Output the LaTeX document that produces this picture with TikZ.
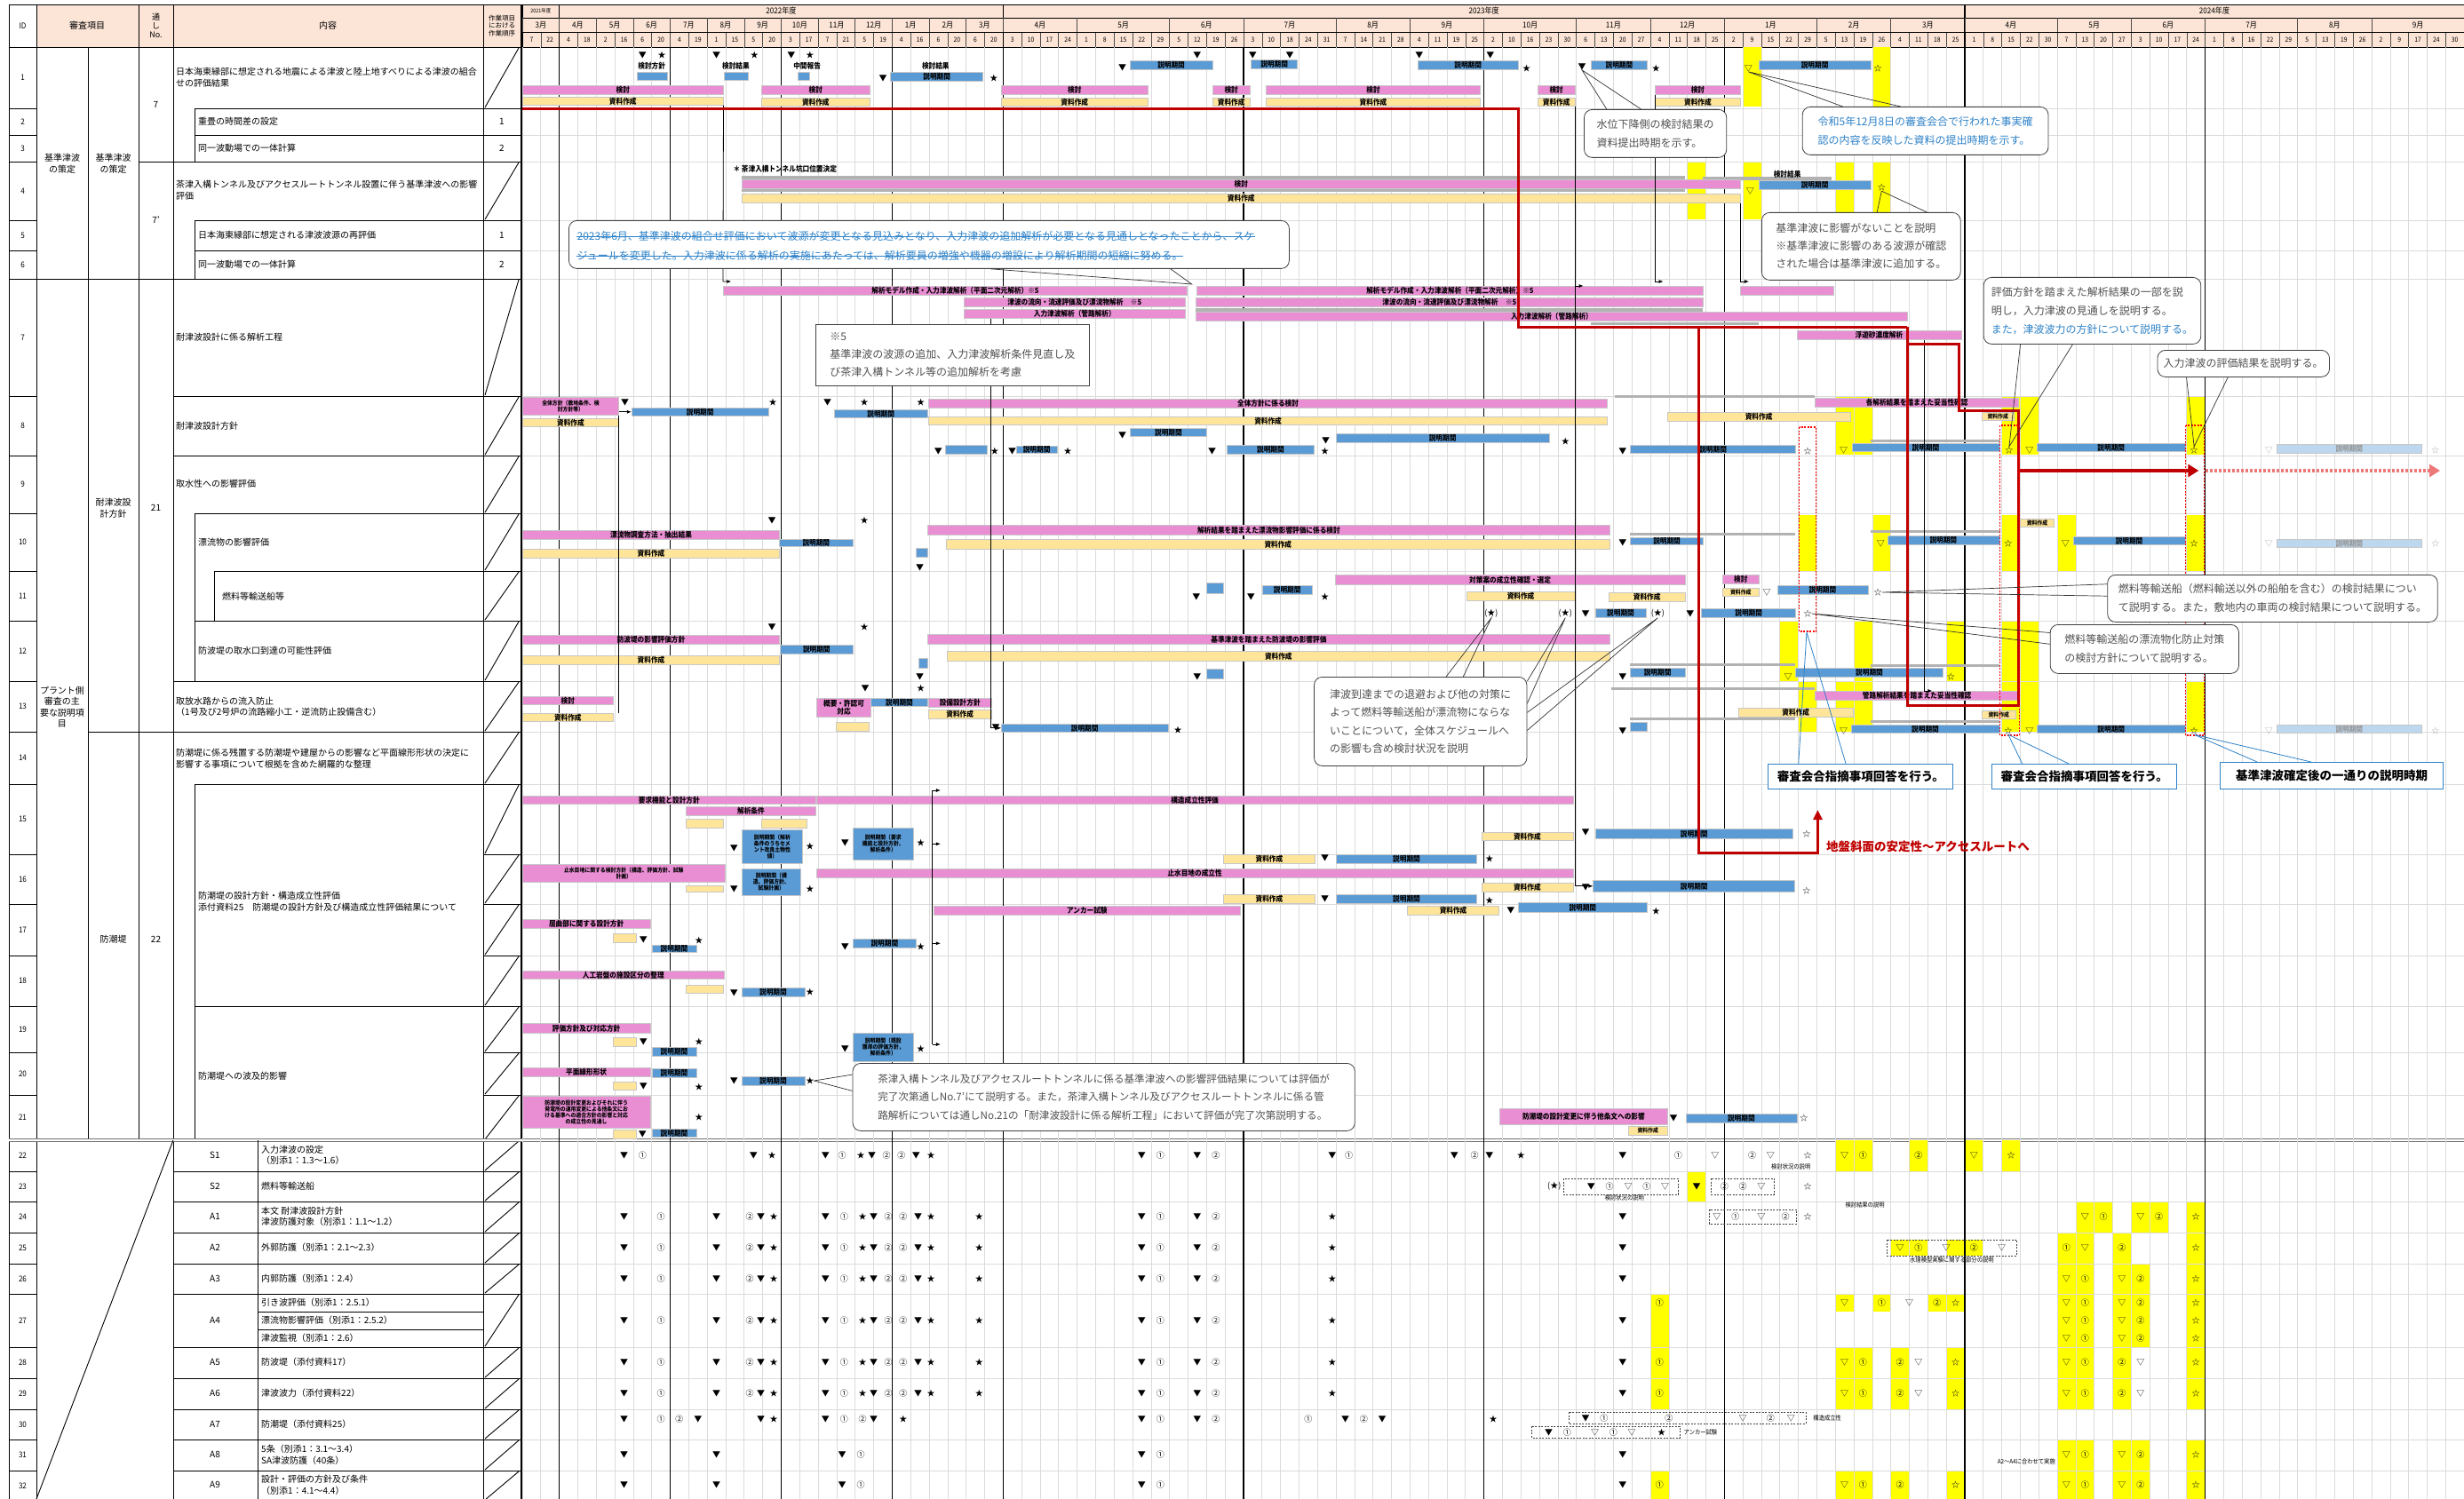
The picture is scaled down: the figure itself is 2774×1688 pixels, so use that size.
\documentclass[tikz,border=0pt]{standalone}
\usepackage{fontspec}
\setmainfont{Noto Sans CJK JP}
\newfontfamily\cond{Noto Sans CJK JP}[FakeStretch=0.9]
\usetikzlibrary{calc,arrows.meta}

\definecolor{hdrfill}{RGB}{252,228,214}
\definecolor{barpink}{RGB}{234,142,212}
\definecolor{barbeige}{RGB}{255,229,153}
\definecolor{barblue}{RGB}{91,155,213}
\definecolor{barfade}{RGB}{189,215,238}
\definecolor{hlyel}{RGB}{255,255,0}
\definecolor{redln}{RGB}{192,0,0}
\definecolor{redfade}{RGB}{236,120,120}
\definecolor{notegray}{RGB}{80,80,80}
\definecolor{noteblue}{RGB}{46,130,200}

\newcommand{\gbar}[7]{%
  \node[#6, minimum width={(#3-#2)*20.82pt}, minimum height={(#5-#4)*1pt}] (#1) at (#2,#4) {#7};}

\begin{document}
\begin{tikzpicture}[x=1pt, y=-1pt,
  tline/.style={black, line width=0.9pt},
  gridc/.style={black!14, line width=0.7pt},
  qline/.style={black, line width=1.3pt},
  hdrt/.style={inner sep=0pt, font=\fontsize{9}{9}\cond},
  cellt/.style={inner sep=0pt, font=\fontsize{10}{12.5}\selectfont, align=left},
  barbase/.style={draw=black!22, line width=0.6pt, inner sep=0pt, anchor=north west,
    font=\fontsize{8.5}{9}\cond\bfseries, align=center},
  pk/.style={barbase, fill=barpink},
  bg/.style={barbase, fill=barbeige},
  bl/.style={barbase, fill=barblue},
  lb/.style={barbase, fill=barfade, text=black!40},
  sm/.style={font=\fontsize{6.5}{7}\cond\bfseries},
  gr/.style={fill=black!30},
  hl/.style={fill=hlyel},
  mk/.style={inner sep=0pt, font=\fontsize{9}{9}\selectfont},
  mkf/.style={mk, text=black!35},
  tiny/.style={inner sep=0pt, font=\fontsize{7}{7}\cond},
  dbox/.style={black!75, line width=0.7pt, dash pattern=on 2pt off 1.5pt},
  note/.style={draw=black!75, line width=0.8pt, rounded corners=9pt, fill=white, anchor=north west,
    text=notegray, font=\fontsize{12}{21}\selectfont, align=left, inner sep=0pt},
  notesq/.style={note, rounded corners=0pt},
  nbox/.style={draw=noteblue, line width=1pt, fill=white, anchor=north west, inner sep=0pt,
    font=\fontsize{13.5}{14}\selectfont\bfseries},
  ptr/.style={black!80, line width=0.7pt},
  bptr/.style={noteblue, line width=0.8pt},
  conn/.style={black, line width=0.8pt, -{Latex[length=5pt,width=4pt]}},
  connl/.style={black, line width=0.8pt},
  redl/.style={redln, line width=3pt},
  reddot/.style={red, line width=1.3pt, dash pattern=on 2pt off 1.5pt}]

  \useasboundingbox (0,0) rectangle (2774,1688);
  \fill[white] (0,0) rectangle (2774,1688);

  \fill[hdrfill] (41,5) rectangle (586,53);
  \fill[hdrfill] (588,5) rectangle (2774,53);
  \node[hdrt] (hid) at (25.5,29) {ID};
  \node[hdrt, font=\fontsize{10}{10}\selectfont] (hsa) at (98,29) {審査項目};
  \node[hdrt, align=center, font=\fontsize{9}{10}\selectfont] (hno) at (175.5,29) {通\\し\\No.};
  \node[hdrt, font=\fontsize{10}{10}\selectfont] (hnai) at (369,29) {内容};
  \node[hdrt, align=center, font=\fontsize{7.5}{8.5}\selectfont] (hjun) at (565,29) {作業項目\\における\\作業順序};

  \foreach \t/\b [count=\n] in {53/122,122/152,152/182,182/248,248/282,282/314,314/446,446/513,
      513/578,578/643,643/699,699/767,767/824,824/883,883/962,962/1018,1018/1076,1076/1133,
      1133/1185,1185/1233,1233/1284,1284/1319,1319/1353,1353/1388,1388/1423,1423/1457,
      1457/1517,1517/1552,1552/1587,1587/1621,1621/1656,1656/1690} {
    \node[hdrt] (id\n) at (25.5,{(\t+\b)/2}) {\n};
    \draw[tline] (10,\b) -- (41,\b);
    \draw[tline] (544,\b) -- (586,\b);
  }
  \foreach \t/\b in {53/122,182/248,314/446,446/513,513/578,578/643,643/699,699/767,767/824,
      824/883,883/962,962/1018,1018/1076,1076/1133,1133/1185,1185/1233,1233/1284,1284/1319,
      1319/1353,1353/1388,1388/1423,1423/1457,1457/1517,1517/1552,1552/1587,1587/1621,
      1621/1656,1656/1690}
    \draw[tline] (546,\b-1) -- (584,\t+1);
  \foreach \t/\b/\k [count=\n] in {122/152/1,152/182/2,248/282/1,282/314/2}
    \node[hdrt, font=\fontsize{10}{10}\selectfont] (jn\n) at (565,{(\t+\b)/2}) {\k};

  \draw[tline] (10,5) rectangle (2774,1688);
  \draw[tline] (10,53) -- (2774,53);
  \foreach \x in {41,195,544} \draw[tline] (\x,5) -- (\x,1688);
  \foreach \x in {99,156} \draw[tline] (\x,53) -- (\x,1284);
  \draw[tline] (156,5) -- (156,53);
  \draw[line width=2pt] (587,5) -- (587,1688);
  \foreach \y in {314,1284} \draw[tline] (41,\y) -- (195,\y);
  \draw[tline] (99,824) -- (195,824);
  \draw[tline] (156,182) -- (195,182);
  \foreach \y in {182,314,446,513,767,824} \draw[tline] (195,\y) -- (544,\y);
  \foreach \y in {122,152,248,282,578,699,883,1133} \draw[tline] (219,\y) -- (544,\y);
  \draw[tline] (241,643) -- (544,643);
  \draw[tline] (219,122) -- (219,182);
  \draw[tline] (219,248) -- (219,314);
  \draw[tline] (219,578) -- (219,767);
  \draw[tline] (241,643) -- (241,699);
  \draw[tline] (219,883) -- (219,1284);
  \draw[black!55, line width=1pt, double, double distance=1.2pt] (10,1284) -- (2774,1284);

  \node[cellt, anchor=north west] (t1) at (198,76) {日本海東縁部に想定される地震による津波と陸上地すべりによる津波の組合\\せの評価結果};
  \node[cellt, anchor=west] (t2) at (223,137) {重畳の時間差の設定};
  \node[cellt, anchor=west] (t3) at (223,167) {同一波動場での一体計算};
  \node[cellt, anchor=north west] (t4) at (198,203) {茶津入構トンネル及びアクセスルートトンネル設置に伴う基準津波への影響\\評価};
  \node[cellt, anchor=west] (t5) at (223,265) {日本海東縁部に想定される津波波源の再評価};
  \node[cellt, anchor=west] (t6) at (223,298) {同一波動場での一体計算};
  \node[cellt, anchor=west] (t7) at (198,380) {耐津波設計に係る解析工程};
  \node[cellt, anchor=west] (t8) at (198,480) {耐津波設計方針};
  \node[cellt, anchor=west] (t9) at (198,545) {取水性への影響評価};
  \node[cellt, anchor=west] (t10) at (223,611) {漂流物の影響評価};
  \node[cellt, anchor=west] (t11) at (250,672) {燃料等輸送船等};
  \node[cellt, anchor=west] (t12) at (223,733) {防波堤の取水口到達の可能性評価};
  \node[cellt, anchor=west] (t13) at (198,796) {取放水路からの流入防止\\（1号及び2号炉の流路縮小工・逆流防止設備含む）};
  \node[cellt, anchor=west] (t14) at (198,854) {防潮堤に係る残置する防潮堤や建屋からの影響など平面線形形状の決定に\\影響する事項について根拠を含めた網羅的な整理};
  \node[cellt, anchor=west] (t15) at (223,1015) {防潮堤の設計方針・構造成立性評価\\添付資料25\quad 防潮堤の設計方針及び構造成立性評価結果について};
  \node[cellt, anchor=west] (t19) at (223,1212) {防潮堤への波及的影響};

  \node[cellt, align=center] (g1) at (70,184) {基準津波\\の策定};
  \node[cellt, align=center] (g2) at (127.5,184) {基準津波\\の策定};
  \node[cellt, align=center] (g3) at (70,796) {プラント側\\審査の主\\要な説明項\\目};
  \node[cellt, align=center] (g4) at (127.5,572) {耐津波設\\計方針};
  \node[cellt, align=center] (g5) at (127.5,1058) {防潮堤};
  \node[cellt] (n7) at (175.5,118) {7};
  \node[cellt] (n7b) at (175.5,248) {7'};
  \node[cellt] (n21) at (175.5,572) {21};
  \node[cellt] (n22) at (175.5,1058) {22};

  \draw[tline] (41,1688) -- (195,1284);
  \draw[tline] (290,1284) -- (290,1688);
  \foreach \y in {1319,1353,1388,1423,1457,1517,1552,1587,1621,1656} \draw[tline] (195,\y) -- (544,\y);
  \foreach \y in {1477,1497} \draw[tline] (290,\y) -- (544,\y);
  \foreach \c/\y [count=\n] in {S1/1301,S2/1336,A1/1370,A2/1405,A3/1440,A4/1487,A5/1534,A6/1569,A7/1604,A8/1638,A9/1672}
    \node[cellt] (cd\n) at (242,\y) {\c};
  \node[cellt, anchor=west] (u22) at (294,1301) {入力津波の設定\\（別添1：1.3～1.6）};
  \node[cellt, anchor=west] (u23) at (294,1336) {燃料等輸送船};
  \node[cellt, anchor=west] (u24) at (294,1370) {本文\ 耐津波設計方針\\津波防護対象（別添1：1.1～1.2）};
  \node[cellt, anchor=west] (u25) at (294,1405) {外郭防護（別添1：2.1～2.3）};
  \node[cellt, anchor=west] (u26) at (294,1440) {内郭防護（別添1：2.4）};
  \node[cellt, anchor=west] (u27a) at (294,1467) {引き波評価（別添1：2.5.1）};
  \node[cellt, anchor=west] (u27b) at (294,1487) {漂流物影響評価（別添1：2.5.2）};
  \node[cellt, anchor=west] (u27c) at (294,1507) {津波監視（別添1：2.6）};
  \node[cellt, anchor=west] (u28) at (294,1534) {防波堤（添付資料17）};
  \node[cellt, anchor=west] (u29) at (294,1569) {津波波力（添付資料22）};
  \node[cellt, anchor=west] (u30) at (294,1604) {防潮堤（添付資料25）};
  \node[cellt, anchor=west] (u31) at (294,1638) {5条（別添1：3.1～3.4）\\SA津波防護（40条）};
  \node[cellt, anchor=west] (u32) at (294,1672) {設計・評価の方針及び条件\\（別添1：4.1～4.4）};

  \begin{scope}[xshift=588pt, x=20.82pt]
    \foreach \a/\b/\c/\d in {66/67/53/120, 73/74/53/120, 63/64/182/247, 66/67/182/247,
        71/72/182/247, 73/74/182/247, 71/73/447/512, 80/82/447/512, 90/91/447/512,
        69/70/580/643, 73/74/580/643, 80/81/580/643, 83/84/580/643, 90/91/580/643,
        68/69/700/767, 72/73/700/767, 77/78/700/767, 80/82/700/767,
        69/70/767/824, 71/73/767/824, 80/82/767/824, 90/91/767/824}
      \fill[hl] (\a,\c) rectangle (\b,\d);
    \foreach \c/\t/\b in {71/1284/1319,72/1284/1319,75/1284/1319,78/1284/1319,80/1284/1319,
        63/1319/1353,84/1353/1388,85/1353/1388,87/1353/1388,88/1353/1388,90/1353/1388,
        74/1396/1414,75/1396/1414,77/1396/1414,78/1396/1414,83/1388/1423,84/1388/1423,86/1388/1423,90/1388/1423,
        83/1423/1457,84/1423/1457,86/1423/1457,87/1423/1457,90/1423/1457,
        61/1457/1517,71/1457/1477,73/1457/1477,76/1457/1477,77/1457/1477,
        83/1457/1517,84/1457/1517,86/1457/1517,87/1457/1517,90/1457/1517,
        61/1517/1552,71/1517/1552,72/1517/1552,74/1517/1552,77/1517/1552,83/1517/1552,84/1517/1552,86/1517/1552,90/1517/1552,
        61/1552/1587,71/1552/1587,72/1552/1587,74/1552/1587,77/1552/1587,83/1552/1587,84/1552/1587,86/1552/1587,90/1552/1587,
        83/1621/1656,84/1621/1656,86/1621/1656,87/1621/1656,90/1621/1656,
        61/1656/1688,71/1656/1688,72/1656/1688,74/1656/1688,77/1656/1688,83/1656/1688,84/1656/1688,86/1656/1688,87/1656/1688,90/1656/1688}
      \fill[hl] (\c,\t) rectangle (\c+1,\b);

    \foreach \i in {0,...,105} {
      \draw[gridc] (\i,53) -- (\i,1688);
      \draw[black!70, line width=0.6pt] (\i,36) -- (\i,53);
    }
    \foreach \y in {122,152,182,248,282,314,446,513,578,643,699,767,824,883,962,1018,1076,1133,
        1185,1233,1319,1353,1388,1423,1457,1517,1552,1587,1621,1656}
      \draw[gridc] (0,\y) -- (105,\y);
    \foreach \i in {2,8,14,20,26,39,52,65,78,91} \draw[qline] (\i,53) -- (\i,1688);

    \draw[tline] (0,20) -- (105,20);
    \draw[tline] (0,36) -- (105,36);
    \foreach \a/\b/\yr [count=\n] in {0/2/2021年度,2/26/2022年度,26/78/2023年度,78/105/2024年度} {
      \draw[line width=1.2pt] (\a,5) -- (\a,53);
      \node[hdrt, font=\fontsize{\ifnum\n=1 6\else 9\fi}{9}\cond] (yr\n) at ({(\a+\b)/2},12.5) {\yr};
    }
    \foreach \a/\b/\m [count=\n] in {0/2/3月,2/4/4月,4/6/5月,6/8/6月,8/10/7月,10/12/8月,12/14/9月,
        14/16/10月,16/18/11月,18/20/12月,20/22/1月,22/24/2月,24/26/3月,26/30/4月,30/35/5月,
        35/39/6月,39/44/7月,44/48/8月,48/52/9月,52/57/10月,57/61/11月,61/65/12月,65/70/1月,
        70/74/2月,74/78/3月,78/83/4月,83/87/5月,87/91/6月,91/96/7月,96/100/8月,100/105/9月} {
      \draw[black!70, line width=0.6pt] (\a,20) -- (\a,36);
      \node[hdrt] (mo\n) at ({(\a+\b)/2},28) {\m};
    }
    \foreach \d [count=\i from 0] in {7,22,4,18,2,16,6,20,4,19,1,15,5,20,3,17,7,21,5,19,4,16,6,20,6,20,
        3,10,17,24,1,8,15,22,29,5,12,19,26,3,10,18,24,31,7,14,21,28,4,11,19,25,2,10,16,23,30,
        6,13,20,27,4,11,18,25,2,9,15,22,29,5,13,19,26,4,11,18,25,
        1,8,15,22,30,7,13,20,27,3,10,17,24,1,8,16,22,29,5,13,19,26,2,9,17,24,30}
      \node[hdrt, font=\fontsize{7.5}{8}\cond] (dy\i) at (\i+0.5,44.5) {\d};

    \gbar{b1a}{0}{10.85}{96}{106}{pk}{検討}
    \gbar{b1b}{0}{10.85}{109}{118}{bg}{資料作成}
    \gbar{b1c}{12.9}{18.8}{96}{106}{pk}{検討}
    \gbar{b1d}{12.9}{18.8}{110}{119}{bg}{資料作成}
    \gbar{b1e}{25.9}{33.8}{96}{106}{pk}{検討}
    \gbar{b1f}{25.9}{33.8}{110}{119}{bg}{資料作成}
    \gbar{b1g}{37.3}{39.35}{96}{106}{pk}{検討}
    \gbar{b1h}{37.3}{39.35}{110}{119}{bg}{資料作成}
    \gbar{b1i}{40.2}{51.8}{96}{106}{pk}{検討}
    \gbar{b1j}{40.2}{51.8}{110}{119}{bg}{資料作成}
    \gbar{b1k}{54.9}{56.9}{96}{106}{pk}{検討}
    \gbar{b1l}{54.9}{56.9}{110}{119}{bg}{資料作成}
    \gbar{b1m}{61.25}{65.85}{96}{106}{pk}{検討}
    \gbar{b1n}{61.25}{65.85}{110}{119}{bg}{資料作成}
    \gbar{e1a}{6.2}{7.85}{81}{90}{bl}{}
    \gbar{e1b}{10.9}{12.2}{81}{90}{bl}{}
    \gbar{e1c}{14.9}{15.5}{81}{90}{bl}{}
    \gbar{e1d}{19.9}{24.9}{81}{91}{bl}{説明期間}
    \gbar{e1e}{32.85}{37.3}{68}{78}{bl}{説明期間}
    \gbar{e1f}{39.4}{41.9}{67}{77}{bl}{説明期間}
    \gbar{e1g}{48.4}{53.85}{68}{78}{bl}{説明期間}
    \gbar{e1h}{57.8}{60.8}{68}{78}{bl}{説明期間}
    \gbar{e1i}{66.85}{72.9}{68}{78}{bl}{説明期間}
    \foreach \x/\t [count=\n] in {7/検討方針,11.55/検討結果,15.4/中間報告,22.35/検討結果}
      \node[hdrt, font=\fontsize{8.5}{9}\cond\bfseries] (lb1\n) at (\x,74) {\t};
    \foreach \x/\y/\s [count=\n] in {6.5/62/▼,7.55/62/★,10.5/62/▼,12.55/62/★,14.55/62/▼,15.55/62/★,
        19.5/88/▼,25.5/88/★,32.45/76/▼,36.5/62/▼,39.5/62/▼,41.5/62/▼,48.5/62/▼,52.35/62/▼,
        54.3/77/★,61.3/77/★}
      \node[mk] (ra\n) at (\x,\y) {\s};
    \node[mk] (m1a) at (57.3,75) {▼};
    \node[mk] (m1b) at (66.3,77) {▽};
    \node[mk] (m1c) at (73.3,77) {☆};

    \node[mk, anchor=west, font=\fontsize{8.5}{9}\cond\bfseries] (l4) at (11.4,190) {＊\ 茶津入構トンネル坑口位置決定};
    \fill[gr] (11.86,198) rectangle (62.85,216);
    \fill[gr] (63.85,199) rectangle (70.8,203);
    \gbar{b4a}{11.86}{65.85}{202}{212}{pk}{検討}
    \gbar{b4b}{11.86}{65.85}{218}{228}{bg}{資料作成}
    \gbar{e4a}{66.85}{72.9}{203}{213}{bl}{説明期間}
    \node[hdrt, font=\fontsize{8.5}{9}\cond\bfseries] (l4b) at (68.4,196) {検討結果};
    \node[mk] (m4a) at (66.4,215) {▽};
    \node[mk] (m4b) at (73.5,211) {☆};

    \gbar{p7a}{10.85}{35.95}{322}{332}{pk}{解析モデル作成・入力津波解析（平面二次元解析）※5}
    \gbar{p7b}{23.85}{35.85}{335}{345}{pk}{津波の流向・流速評価及び漂流物解析\quad ※5}
    \gbar{p7c}{23.85}{35.85}{348}{358}{pk}{入力津波解析（管路解析）}
    \gbar{p7d}{36.45}{63.85}{322}{332}{pk}{解析モデル作成・入力津波解析（平面二次元解析）※5}
    \gbar{p7e}{36.4}{63.85}{335}{345}{pk}{津波の流向・流速評価及び漂流物解析\quad ※5}
    \fill[gr] (36.4,347) rectangle (63.85,351);
    \gbar{p7f}{36.4}{74.9}{351}{361}{pk}{入力津波解析（管路解析）}
    \gbar{p7g}{65.85}{70.9}{322}{332}{pk}{}
    \fill[gr] (57.8,363) rectangle (66.85,366);
    \gbar{p7h}{68.9}{77.8}{372}{382}{pk}{浮遊砂濃度解析}

    \gbar{p8a}{0}{5.2}{447}{467}{pk, sm}{全体方針（敷地条件、検\\討方針等）}
    \gbar{e8a}{5.9}{13.3}{459}{468}{bl}{説明期間}
    \gbar{b8a}{0}{5.2}{471}{480}{bg}{資料作成}
    \gbar{e8b}{16.85}{21.9}{461}{470}{bl}{説明期間}
    \gbar{p8b}{21.97}{58.65}{449}{459}{pk}{全体方針に係る検討}
    \gbar{b8b}{21.97}{58.65}{469}{478}{bg}{資料作成}
    \gbar{e8c}{32.85}{37.0}{482}{491}{bl}{説明期間}
    \gbar{e8d}{44.0}{55.5}{488}{498}{bl}{説明期間}
    \gbar{e8e}{22.85}{25.1}{501}{511}{bl}{}
    \gbar{e8f}{26.7}{28.9}{502}{510}{bl}{説明期間}
    \gbar{e8g}{38.1}{42.8}{501}{511}{bl}{説明期間}
    \fill[gr] (59.1,445) rectangle (69.9,448);
    \gbar{p8c}{69.9}{80.9}{448}{458}{pk}{各解析結果を踏まえた妥当性確認}
    \gbar{b8c}{61.9}{71.8}{464}{474}{bg}{資料作成}
    \gbar{b8d}{78.9}{80.65}{464}{473}{bg, sm}{資料作成}
    \gbar{e8h}{59.9}{68.85}{501}{510}{bl}{説明期間}
    \fill[gr] (72.9,495) rectangle (79.9,498);
    \gbar{e8i}{71.9}{79.85}{499}{508}{bl}{説明期間}
    \gbar{e8j}{81.9}{89.9}{499}{508}{bl}{説明期間}
    \gbar{e8k}{94.85}{102.7}{500}{510}{lb}{説明期間}
    \foreach \x/\y/\s [count=\n] in {5.55/453/▼,13.55/453/★,16.5/453/▼,18.5/453/★,21.55/453/★,
        32.45/490/▼,43.45/496/▼,56.4/497/★,22.5/508/▼,25.55/508/★,26.5/508/▼,29.5/508/★,
        37.3/508/▼,43.4/508/★,59.5/508/▼,69.5/508/☆,71.45/507/▽,81.5/507/▽}
      \node[mk] (rb\n) at (\x,\y) {\s};
    \node[mk] (m8a) at (80.4,507) {☆};
    \node[mk] (m8b) at (90.4,507) {☆};
    \node[mkf] (m8c) at (94.45,507) {▽};
    \node[mkf] (m8d) at (103.45,507) {☆};

    \draw[redl, -{Triangle[length=12pt,width=14pt]}, line width=4pt] (80.9,530) -- (90.65,530);
    \draw[redfade, line width=4pt, dash pattern=on 3pt off 2pt, -{Triangle[length=12pt,width=14pt]}] (91,530) -- (103.7,530);

    \gbar{p10a}{0}{13.9}{597}{607}{pk}{漂流物調査方法・抽出結果}
    \gbar{e10a}{13.9}{17.85}{607}{615}{bl}{説明期間}
    \gbar{b10a}{0}{13.9}{618}{628}{bg}{資料作成}
    \gbar{e10b}{21.3}{21.9}{617}{627}{bl}{}
    \gbar{p10b}{21.9}{58.8}{591}{602}{pk}{解析結果を踏まえた漂流物影響評価に係る検討}
    \gbar{b10b}{22.9}{58.8}{607}{618}{bg}{資料作成}
    \fill[gr] (59.9,600) rectangle (68.85,603);
    \gbar{e10c}{59.9}{63.85}{605}{613}{bl}{説明期間}
    \fill[gr] (72.9,597) rectangle (79.9,600);
    \gbar{e10d}{73.8}{79.85}{603}{613}{bl}{説明期間}
    \gbar{b10c}{81.0}{82.8}{584}{593}{bg, sm}{資料作成}
    \gbar{e10e}{83.85}{89.9}{604}{613}{bl}{説明期間}
    \gbar{e10f}{94.85}{102.7}{607}{616}{lb}{説明期間}
    \foreach \x/\y/\s [count=\n] in {13.5/586/▼,18.5/586/★,21.5/639/▼,59.5/611/▼,73.45/612/▽,
        80.35/612/☆,83.45/612/▽,90.4/612/☆}
      \node[mk] (rc\n) at (\x,\y) {\s};
    \node[mkf] (m10a) at (94.45,612) {▽};
    \node[mkf] (m10b) at (103.45,612) {☆};

    \gbar{e11a}{37.0}{37.9}{656}{668}{bl}{}
    \gbar{e11b}{40.0}{42.7}{659}{669}{bl}{説明期間}
    \gbar{p11a}{43.95}{62.85}{647}{658}{pk}{対策案の成立性確認・選定}
    \gbar{b11a}{51.05}{56.9}{666}{676}{bg}{資料作成}
    \gbar{b11b}{58.75}{62.85}{667}{677}{bg}{資料作成}
    \gbar{p11b}{64.9}{66.85}{647}{657}{pk}{検討}
    \gbar{b11c}{64.9}{66.85}{662}{671}{bg, sm}{資料作成}
    \gbar{e11c}{67.85}{72.75}{659}{669}{bl}{説明期間}
    \gbar{e11d}{58.0}{60.75}{685}{695}{bl}{説明期間}
    \gbar{e11e}{63.75}{68.85}{685}{695}{bl}{説明期間}
    \foreach \x/\y/\s [count=\n] in {36.45/672/▼,39.4/672/▼,43.4/672/★,57.5/691/▼,63.15/691/▼,67.3/667/▽}
      \node[mk] (rd\n) at (\x,\y) {\s};
    \node[mk] (m11a) at (73.3,667) {☆};
    \node[mk] (m11b) at (52.4,691) {(★)};
    \node[mk] (m11c) at (56.4,691) {(★)};
    \node[mk] (m11d) at (61.4,691) {(★)};
    \node[mk] (m11e) at (69.5,691) {☆};

    \gbar{p12a}{0}{13.9}{715}{725}{pk}{防波堤の影響評価方針}
    \gbar{e12a}{13.95}{17.85}{726}{736}{bl}{説明期間}
    \gbar{b12a}{0}{13.9}{738}{748}{bg}{資料作成}
    \gbar{e12b}{21.4}{21.9}{741}{752}{bl}{}
    \gbar{p12b}{21.9}{58.8}{714}{725}{pk}{基準津波を踏まえた防波堤の影響評価}
    \gbar{b12b}{22.95}{58.8}{733}{744}{bg}{資料作成}
    \gbar{e12c}{37.0}{37.9}{753}{764}{bl}{}
    \fill[gr] (59.9,747) rectangle (68.85,750);
    \gbar{e12d}{59.9}{62.85}{752}{762}{bl}{説明期間}
    \gbar{e12e}{68.85}{76.8}{752}{762}{bl}{説明期間}
    \fill[gr] (72.9,748) rectangle (79.85,751);
    \foreach \x/\y/\s [count=\n] in {13.5/706/▼,18.5/706/★,21.5/762/▼,36.5/762/▼,59.5/762/▼,
        68.45/762/▽,77.25/762/☆}
      \node[mk] (re\n) at (\x,\y) {\s};

    \gbar{p13a}{0}{4.9}{784}{793}{pk}{検討}
    \gbar{b13a}{0}{4.9}{803}{812}{bg}{資料作成}
    \gbar{p13b}{15.9}{18.85}{786}{807}{pk}{概要・許認可\\対応}
    \gbar{e13a}{18.85}{21.9}{786}{795}{bl}{説明期間}
    \gbar{p13c}{21.95}{25.35}{786}{796}{pk}{設備設計方針}
    \gbar{b13b}{21.95}{25.35}{799}{809}{bg}{資料作成}
    \gbar{b13c}{16.95}{18.75}{813}{823}{bg}{}
    \gbar{e13b}{25.9}{34.9}{815}{824}{bl}{説明期間}
    \fill[gr] (58.9,774) rectangle (69.9,777);
    \gbar{p13d}{69.9}{80.9}{778}{788}{pk}{管路解析結果を踏まえた妥当性確認}
    \gbar{b13d}{65.75}{71.95}{797}{807}{bg}{資料作成}
    \gbar{b13e}{78.9}{80.75}{800}{809}{bg, sm}{資料作成}
    \fill[gr] (59.9,808) rectangle (68.85,811);
    \gbar{e13c}{59.9}{60.8}{813}{823}{bl}{}
    \fill[gr] (72.9,811) rectangle (79.85,814);
    \gbar{e13d}{71.85}{79.85}{816}{825}{bl}{説明期間}
    \gbar{e13e}{81.9}{89.9}{816}{825}{bl}{説明期間}
    \gbar{e13f}{94.85}{102.7}{816}{825}{lb}{説明期間}
    \foreach \x/\y/\s [count=\n] in {18.55/775/▼,21.55/775/★,25.6/819/▼,35.45/822/★,59.5/823/▼,
        71.45/823/▽,81.5/823/▽}
      \node[mk] (rf\n) at (\x,\y) {\s};
    \node[mk] (m13a) at (80.35,823) {☆};
    \node[mk] (m13b) at (90.4,823) {☆};
    \node[mkf] (m13c) at (94.45,823) {▽};
    \node[mkf] (m13d) at (103.45,823) {☆};

    \gbar{p15a}{0}{15.85}{896}{905}{pk}{要求機能と設計方針}
    \gbar{p15b}{15.9}{56.8}{896}{905}{pk}{構造成立性評価}
    \gbar{p15c}{8.85}{15.85}{908}{918}{pk}{解析条件}
    \gbar{b15a}{8.85}{10.85}{922}{932}{bg}{}
    \gbar{b15b}{12.9}{15.35}{922}{932}{bg}{}
    \gbar{e15a}{11.85}{15.15}{934}{972}{bl, sm}{説明期間（解析\\条件のうちセメ\\ント改良土物性\\値）}
    \gbar{e15b}{17.85}{21.15}{932}{968}{bl, sm}{説明期間（要求\\機能と設計方針、\\解析条件）}
    \gbar{b15c}{37.9}{42.85}{962}{972}{bg}{資料作成}
    \gbar{e15c}{44.0}{51.6}{962}{972}{bl}{説明期間}
    \gbar{b15d}{51.85}{56.8}{937}{946}{bg}{資料作成}
    \gbar{e15d}{58.0}{68.7}{933}{944}{bl}{説明期間}
    \gbar{p16a}{0}{10.95}{973}{993}{pk, sm}{止水目地に関する検討方針（構造、評価方針、試験\\計画）}
    \gbar{p16b}{15.9}{56.8}{978}{988}{pk}{止水目地の成立性}
    \gbar{b16a}{8.85}{10.85}{997}{1004}{bg}{}
    \gbar{e16a}{11.85}{15.05}{978}{1008}{bl, sm}{説明期間（構\\造、評価方針、\\試験計画）}
    \gbar{b16b}{37.9}{42.85}{1007}{1017}{bg}{資料作成}
    \gbar{e16b}{44.0}{51.6}{1007}{1017}{bl}{説明期間}
    \gbar{b16c}{51.85}{56.8}{994}{1004}{bg}{資料作成}
    \gbar{e16c}{57.9}{68.8}{991}{1004}{bl}{説明期間}
    \gbar{p16c}{22.25}{38.8}{1020}{1030}{pk}{アンカー試験}
    \gbar{b16d}{47.85}{52.8}{1020}{1030}{bg}{資料作成}
    \gbar{e16d}{53.85}{60.8}{1016}{1027}{bl}{説明期間}
    \gbar{p17a}{0}{6.9}{1035}{1045}{pk}{屈曲部に関する設計方針}
    \gbar{b17a}{4.9}{6.15}{1051}{1061}{bg}{}
    \gbar{e17a}{7.0}{9.4}{1064}{1072}{bl}{説明期間}
    \gbar{e17b}{17.85}{21.3}{1057}{1067}{bl}{説明期間}
    \gbar{p18a}{0}{10.9}{1093}{1102}{pk}{人工岩盤の施設区分の整理}
    \gbar{b18a}{8.85}{10.85}{1109}{1118}{bg}{}
    \gbar{e18a}{11.85}{15.25}{1112}{1122}{bl}{説明期間}
    \gbar{p19a}{0}{6.9}{1152}{1163}{pk}{評価方針及び対応方針}
    \gbar{b19a}{4.9}{6.15}{1168}{1178}{bg}{}
    \gbar{e19a}{7.0}{9.4}{1179}{1189}{bl}{説明期間}
    \gbar{e19b}{17.85}{21.15}{1163}{1195}{bl, sm}{説明期間（既設\\護岸の評価方針，\\解析条件）}
    \gbar{p20a}{0}{6.9}{1202}{1212}{pk}{平面線形形状}
    \gbar{e20a}{7.0}{9.4}{1203}{1213}{bl}{説明期間}
    \gbar{b20a}{4.9}{6.15}{1218}{1227}{bg}{}
    \gbar{e20b}{11.85}{15.25}{1212}{1222}{bl}{説明期間}
    \gbar{p21a}{0}{6.9}{1234}{1270}{pk, sm}{防潮堤の設計変更およびそれに伴う\\発電所の運用変更による他条文にお\\ける基準への適合方針の影響と対応\\の成立性の見通し}
    \gbar{b21a}{4.9}{6.15}{1272}{1282}{bg}{}
    \gbar{e21a}{7.0}{9.4}{1271}{1280}{bl}{説明期間}
    \gbar{p21b}{52.85}{61.9}{1248}{1266}{pk}{防潮堤の設計変更に伴う他条文への影響}
    \gbar{e21b}{62.9}{68.9}{1254}{1264}{bl}{説明期間}
    \gbar{b21b}{59.8}{61.9}{1268}{1278}{bg, sm}{資料作成}
    \foreach \x/\y/\s [count=\n] in {11.45/955/▼,15.55/953/★,17.45/949/▼,21.55/949/★,43.4/966/▼,
        52.3/967/★,57.5/937/▼,69.45/939/☆,11.45/1001/▼,15.55/1001/★,43.4/1012/▼,52.3/1014/★,
        57.5/999/▼,69.45/1003/☆,53.45/1025/▼,61.3/1026/★,6.55/1058/▼,9.55/1059/★,17.45/1066/▼,
        21.55/1066/★,11.45/1118/▼,15.55/1117/★,6.55/1173/▼,9.55/1173/★,17.45/1181/▼,21.55/1181/★,
        6.55/1223/▼,9.55/1224/★,11.45/1217/▼,6.5/1277/▼,9.55/1258/★,62.25/1259/▼,69.3/1259/☆}
      \node[mk] (rg\n) at (\x,\y) {\s};
    \node[mk] (m20a) at (15.55,1217) {★};

    \foreach \x/\s [count=\n] in {5.5/▼,6.5/①,12.5/▼,13.5/★,16.4/▼,17.3/①,18.3/★,18.9/▼,19.7/②,
        20.5/②,21.3/▼,22.1/★,33.5/▼,34.5/①,36.5/▼,37.5/②,43.8/▼,44.7/①,50.4/▼,51.5/②,52.3/▼,
        54.0/★,59.5/▼,62.5/①,64.5/▽,66.5/②,67.5/▽,69.5/☆,71.5/▽,72.5/①,75.5/②,78.5/▽,80.5/☆}
      \node[mk] (s22m\n) at (\x,1301) {\s};
    \node[tiny] (s22t) at (68.6,1314) {検討状況の説明};
    \draw[dbox] (56.3,1327) rectangle (62.5,1345);
    \draw[dbox] (64.3,1327) rectangle (67.7,1345);
    \foreach \x/\s [count=\n] in {55.8/(★),57.8/▼,58.8/①,59.8/▽,60.8/①,61.8/▽,63.5/▼,65.0/②,66.0/②,67.0/▽,69.5/☆}
      \node[mk] (s23m\n) at (\x,1336) {\s};
    \node[tiny] (s23t) at (59.6,1349) {検討状況の説明};
    \foreach \y [count=\r] in {1370,1405,1440,1487,1534,1569} {
      \foreach \x/\s [count=\n] in {5.5/▼,7.5/①,10.5/▼,12.3/②,12.9/▼,13.6/★,16.4/▼,17.4/①,18.4/★,
          19.0/▼,19.8/②,20.6/②,21.4/▼,22.1/★,24.7/★,33.5/▼,34.5/①,36.5/▼,37.5/②,43.8/★,59.5/▼}
        \node[mk] (sg\r m\n) at (\x,\y) {\s};
    }
    \draw[dbox] (64.2,1362) rectangle (68.9,1378);
    \foreach \x/\s [count=\n] in {64.6/▽,65.6/①,67.0/▽,68.3/②,69.5/☆,84.5/▽,85.5/①,87.5/▽,88.5/②,90.5/☆}
      \node[mk] (s24m\n) at (\x,1370) {\s};
    \node[tiny] (s24t) at (72.6,1357) {検討結果の説明};
    \draw[dbox] (73.8,1396) rectangle (80.8,1414);
    \foreach \x/\s [count=\n] in {74.5/▽,75.5/①,77.0/▽,78.5/②,80.0/▽,83.5/①,84.5/▽,86.5/②,90.5/☆}
      \node[mk] (s25m\n) at (\x,1405) {\s};
    \node[tiny] (s25t) at (77.3,1419) {水理模型実験に関する部分の説明};
    \foreach \x/\s [count=\n] in {83.5/▽,84.5/①,86.5/▽,87.5/②,90.5/☆}
      \node[mk] (s26m\n) at (\x,1440) {\s};
    \foreach \x/\s [count=\n] in {61.5/①,71.5/▽,73.5/①,75.0/▽,76.5/②,77.5/☆}
      \node[mk] (s27m\n) at (\x,1467) {\s};
    \foreach \y [count=\r] in {1467,1487,1507}
      \foreach \x/\s [count=\n] in {83.5/▽,84.5/①,86.5/▽,87.5/②,90.5/☆}
        \node[mk] (s27r\r m\n) at (\x,\y) {\s};
    \foreach \y [count=\r] in {1534,1569}
      \foreach \x/\s [count=\n] in {61.5/①,71.5/▽,72.5/①,74.5/②,75.5/▽,77.5/☆,83.5/▽,84.5/①,86.5/②,87.5/▽,90.5/☆}
        \node[mk] (s28r\r m\n) at (\x,\y) {\s};
    \foreach \x/\s [count=\n] in {5.5/▼,7.5/①,8.5/②,9.5/▼,12.9/▼,13.6/★,16.4/▼,17.4/①,18.4/②,19.0/▼,
        20.6/★,33.5/▼,34.5/①,36.5/▼,37.5/②,42.5/①,44.5/▼,45.5/②,46.5/▼,52.5/★}
      \node[mk] (s30m\n) at (\x,1598) {\s};
    \draw[dbox] (56.6,1590) rectangle (69.4,1603);
    \foreach \x/\s [count=\n] in {57.5/▼,58.5/①,62.0/②,66.0/▽,67.5/②,68.6/▽}
      \node[mk] (s30b\n) at (\x,1597) {\s};
    \node[tiny, anchor=west] (s30t) at (69.8,1597) {構造成立性};
    \draw[dbox] (54.6,1606) rectangle (62.6,1619);
    \foreach \x/\s [count=\n] in {55.5/▼,56.5/①,58.0/▽,59.0/①,60.0/▽,61.6/★}
      \node[mk] (s30c\n) at (\x,1613) {\s};
    \node[tiny, anchor=west] (s30u) at (62.8,1613) {アンカー試験};
    \foreach \y [count=\r] in {1638,1672}
      \foreach \x/\s [count=\n] in {5.5/▼,10.5/▼,17.3/▼,18.3/①,33.5/▼,34.5/①,59.5/▼,83.5/▽,84.5/①,86.5/▽,87.5/②,90.5/☆}
        \node[mk] (s31r\r m\n) at (\x,\y) {\s};
    \node[tiny, anchor=east] (s31t) at (82.9,1646) {A2～A4に合わせて実施};
    \foreach \x/\s [count=\n] in {61.5/①,71.5/▽,72.5/①,74.5/②,77.5/☆}
      \node[mk] (s32m\n) at (\x,1672) {\s};

    \draw[conn] (b1b.south east) -- ([yshift=5pt]p7a.north west) -- ++(0.45,0);
    \draw[conn] ([xshift=31pt]p7c.south west) |- (e13b.west);
    \draw[connl] (p8a.south east) -- (p8a.east |- b13a.north east);
    \draw[conn] (p8a.east |- e8a.west) -- (e8a.west);
    \coordinate (k4a) at (22.17,890);
    \coordinate (k4b) at (22.17,1176);
    \draw[connl] (k4a) -- (k4b);
    \draw[conn] (k4a) -- ++(0.45,0);
    \draw[conn] (k4b) -- ++(0.45,0);
    \draw[conn] (k4a |- e15b.east) -- ++(0.45,0);
    \draw[conn] (k4a |- e17b.east) -- ++(0.45,0);
    \draw[connl] (b1l.south east) -- (b1l.south east |- e16c.west);
    \draw[conn] (b1l.south east |- p7d.north) -- ++(0.45,0);
    \draw[conn] (b1l.south east |- e16c.west) -- (e16c.west);
    \draw[conn] (b1m.south west) -- ([yshift=5pt]b1m.south west |- p7d.north) -- ++(0.45,0);
    \draw[conn] (b4b.south east) -- ([yshift=5pt]b4b.south east |- p7g.north) -- ++(0.45,0);
    \draw[conn] ([xshift=18pt]p7f.south east |- p7h.south) -- ([xshift=18pt]p7f.south east |- p13d.north) -- ++(0.45,0);

    \draw[redl] (0,123) -- (53.85,123) -- (53.85,368) -- (74.9,368);
    \draw[redl] (63.6,368) -- (63.6,960) -- (70.05,960);
    \draw[redl, -{Triangle[length=11pt,width=10pt]}] (70.05,961.5) -- (70.05,912);
    \draw[redl] (74.9,368) -- (74.9,794) -- (80.9,794) -- (80.9,462) -- (77.7,462) -- (77.7,387) -- (74.9,387);
    \node[anchor=west, text=redln, inner sep=0pt, font=\fontsize{13.5}{14}\selectfont\bfseries] (rt) at (70.5,953) {地盤斜面の安定性～アクセスルートへ};

    \draw[reddot] (69.05,481) rectangle (69.95,711);
    \draw[reddot] (79.9,479) rectangle (80.95,828);
    \draw[reddot] (89.95,479) rectangle (90.95,828);

    \gbar{c1}{2.5}{41.45}{248}{302}{note}{}
    \node[anchor=west, inner sep=0pt, text=noteblue, font=\fontsize{12}{12}\selectfont] (s1) at (2.95,266)
      {2023年6月、基準津波の組合せ評価において波源が変更となる見込みとなり、入力津波の追加解析が必要となる見通しとなったことから、スケ};
    \node[anchor=west, inner sep=0pt, text=noteblue, font=\fontsize{12}{12}\selectfont] (s2) at (2.95,288)
      {ジュールを変更した。入力津波に係る解析の実施にあたっては、解析要員の増強や機器の増設により解析期間の短縮に努める。};
    \draw[noteblue, line width=0.8pt] (s1.west) -- (s1.east);
    \draw[noteblue, line width=0.8pt] (s2.west) -- (s2.east);
    \coordinate (t7) at (36.2,320);
    \draw[ptr] ($(c1.south west)!0.585!(c1.south east)$) -- (t7) -- ($(c1.south west)!0.835!(c1.south east)$);

    \gbar{c2}{15.85}{30.65}{365}{434}{notesq, font=\fontsize{12}{20}\selectfont}{※5\\基準津波の波源の追加、入力津波解析条件見直し及\\び茶津入構トンネル等の追加解析を考慮}

    \gbar{c3}{57.4}{65.1}{123}{177}{note}{水位下降側の検討結果の\\資料提出時期を示す。}
    \draw[ptr] ($(c3.north west)!0.16!(c3.north east)$) -- (m1a.south) -- ($(c3.north west)!0.4!(c3.north east)$);
    \gbar{c4}{69.2}{82.5}{120}{174}{note, text=noteblue}{令和5年12月8日の審査会合で行われた事実確\\認の内容を反映した資料の提出時期を示す。}
    \draw[ptr] ($(c4.north west)!0.165!(c4.north east)$) -- (m1b.south) -- ($(c4.north west)!0.4!(c4.north east)$);
    \gbar{c5}{67.0}{77.75}{239}{315}{note, font=\fontsize{12}{20}\selectfont}{基準津波に影響がないことを説明\\※基準津波に影響のある波源が確認\\された場合は基準津波に追加する。}
    \draw[ptr] ($(c5.north west)!0.58!(c5.north east)$) -- (m4b.south) -- ($(c5.north west)!0.83!(c5.north east)$);
    \gbar{c6}{79.0}{90.75}{312}{387}{note}{評価方針を踏まえた解析結果の一部を説\\明し，入力津波の見通しを説明する。\\\textcolor{noteblue}{また，津波波力の方針について説明する。}}
    \draw[ptr] ($(c6.south west)!0.17!(c6.south east)$) -- (m8a.north) -- ($(c6.south west)!0.41!(c6.south east)$);
    \gbar{c7}{88.4}{97.7}{394}{424}{note}{入力津波の評価結果を説明する。}
    \draw[ptr] ($(c7.south west)!0.17!(c7.south east)$) -- (m8b.north) -- ($(c7.south west)!0.41!(c7.south east)$);
    \gbar{c8}{42.8}{54.3}{762}{862}{note, font=\fontsize{12}{20.5}\selectfont}{津波到達までの退避および他の対策に\\よって燃料等輸送船が漂流物にならな\\いことについて，全体スケジュールへ\\の影響も含め検討状況を説明}
    \draw[ptr] ($(c8.north west)!0.62!(c8.north east)$) -- (m11b.south) -- ($(c8.north west)!0.7!(c8.north east)$);
    \draw[ptr] ($(c8.north east)!0.05!(c8.south east)$) -- (m11c.south) -- ($(c8.north east)!0.3!(c8.south east)$);
    \draw[ptr] ($(c8.north east)!0.4!(c8.south east)$) -- (m11d.south) -- ($(c8.north east)!0.6!(c8.south east)$);
    \gbar{c9}{85.7}{103.55}{647}{700}{note}{燃料等輸送船（燃料輸送以外の船舶を含む）の検討結果につい\\て説明する。また，敷地内の車両の検討結果について説明する。}
    \draw[ptr] ($(c9.north west)!0.2!(c9.south west)$) -- (m11a.east) -- ($(c9.north west)!0.45!(c9.south west)$);
    \gbar{c10}{82.6}{92.8}{703}{758}{note}{燃料等輸送船の漂流物化防止対策\\の検討方針について説明する。}
    \draw[ptr] ($(c10.north west)!0.17!(c10.south west)$) -- (m11e.east) -- ($(c10.north west)!0.4!(c10.south west)$);
    \gbar{c11}{17.85}{45.0}{1197}{1273}{note, font=\fontsize{11.6}{20.5}\selectfont}{茶津入構トンネル及びアクセスルートトンネルに係る基準津波への影響評価結果については評価が\\完了次第通しNo.7'にて説明する。また，茶津入構トンネル及びアクセスルートトンネルに係る管\\路解析については通しNo.21の「耐津波設計に係る解析工程」において評価が完了次第説明する。}
    \draw[ptr] ($(c11.north west)!0.17!(c11.south west)$) -- (m20a.east) -- ($(c11.north west)!0.41!(c11.south west)$);

    \coordinate (t12) at (69.45,712);
    \gbar{c12}{67.35}{77.35}{860}{888}{nbox}{審査会合指摘事項回答を行う。}
    \draw[bptr] ($(c12.north west)!0.165!(c12.north east)$) -- (t12) -- ($(c12.north west)!0.42!(c12.north east)$);
    \gbar{c13}{79.45}{89.45}{860}{888}{nbox}{審査会合指摘事項回答を行う。}
    \draw[bptr] ($(c13.north west)!0.165!(c13.north east)$) -- (m13a.south) -- ($(c13.north west)!0.415!(c13.north east)$);
    \gbar{c14}{91.8}{103.85}{858}{888}{nbox}{基準津波確定後の一通りの説明時期}
    \draw[bptr] ($(c14.north west)!0.166!(c14.north east)$) -- (m13b.south) -- ($(c14.north west)!0.407!(c14.north east)$);
  \end{scope}
\end{tikzpicture}
\end{document}
